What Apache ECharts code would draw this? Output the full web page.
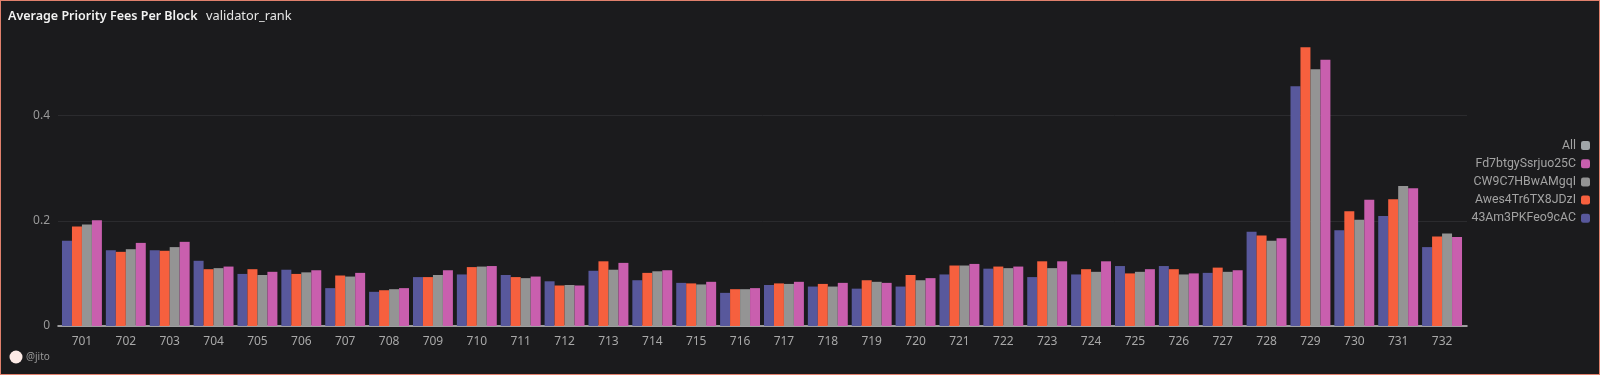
<!DOCTYPE html>
<html><head><meta charset="utf-8">
<style>html,body{margin:0;padding:0;background:#1b1b1d}
#c{width:1600px;height:375px;position:relative}
#f{position:absolute;left:0;top:0;width:1600px;height:375px;box-sizing:border-box;border:1px solid #e0806c;pointer-events:none}</style>
<script src="https://cdn.jsdelivr.net/npm/echarts@6/dist/echarts.min.js"></script>
</head><body><div id="c"></div><div id="f"></div>
<script>
const categories = Array.from({length:32},(_, i)=>String(701+i));
const blue = [.162,.144,.144,.124,.099,.107,.072,.065,.093,.098,.097,.085,.105,.087,.082,.063,.078,.075,.071,.075,.098,.109,.093,.098,.114,.114,.101,.179,.456,.182,.209,.150];
const orange = [.189,.141,.143,.108,.108,.099,.096,.068,.093,.112,.093,.077,.123,.101,.081,.070,.081,.080,.087,.097,.115,.113,.123,.108,.100,.108,.111,.172,.530,.218,.241,.170];
const gray = [.193,.146,.150,.110,.097,.102,.094,.070,.097,.113,.091,.078,.107,.104,.079,.070,.080,.075,.084,.087,.115,.110,.110,.103,.103,.098,.103,.162,.488,.202,.266,.176];
const pink = [.201,.158,.160,.113,.103,.106,.101,.072,.106,.114,.094,.077,.120,.106,.084,.072,.084,.082,.082,.091,.118,.113,.123,.123,.108,.100,.106,.167,.506,.240,.262,.169];
const names = ['43Am3PKFeo9cAC','Awes4Tr6TX8JDzI','CW9C7HBwAMgqI','Fd7btgySsrjuo25C','All'];
const colors = ['#58589c','#f6603e','#949494','#c95fae','#a0a5a8'];
const font = 'Noto Sans';
const mk = (i,d)=>({name:names[i],type:'bar',data:d,itemStyle:{color:colors[i]},barGap:0,barCategoryGap:'9%',emphasis:{disabled:true}});
const chart = echarts.init(document.getElementById('c'),null,{renderer:'canvas'});
chart.setOption({
  animation:false,
  backgroundColor:'#1b1b1d',
  title:[
    {text:'Average Priority Fees Per Block',left:8,top:10,padding:0,textStyle:{color:'#f2f2f2',fontSize:12.5,fontWeight:600,fontFamily:font}},
    {text:'validator_rank',left:206,top:10,padding:0,textStyle:{color:'#e6e6e6',fontSize:12.8,fontWeight:400,fontFamily:font}}
  ],
  grid:[{left:60,right:136,top:10.4,height:315.6},{left:58,right:133,top:10.4,height:315.6}],
  legend:{
    orient:'vertical',right:5,top:134.5,align:'right',icon:'roundRect',itemWidth:9,itemHeight:9,itemGap:6.2,
    data:['All',names[3],names[2],names[1],names[0]],
    selectedMode:false,
    textStyle:{color:'#a3a3a3',fontSize:12.3,fontFamily:'Roboto',width:106,overflow:'truncate',ellipsis:''}
  },
  xAxis:[{type:'category',data:categories,gridIndex:0,
    axisLine:{show:false},axisTick:{show:false},
    axisLabel:{color:'#a8a8a8',fontSize:12,fontFamily:font,margin:10,interval:0}},
    {type:'category',data:[''],gridIndex:1,axisLine:{lineStyle:{color:'#c8c8c8',width:1.5}},axisTick:{show:false},axisLabel:{show:false}}],
  yAxis:[{type:'value',gridIndex:0,min:0,max:0.6,interval:0.2,axisLabel:{show:false},axisLine:{show:false},axisTick:{show:false},splitLine:{show:false}},
    {type:'value',gridIndex:1,min:0,max:0.6,interval:0.2,
    axisLabel:{color:'#999',fontSize:12,fontFamily:font,margin:8,showMaxLabel:false,formatter:v=>v===0?'0':v.toFixed(1)},
    axisLine:{show:false},axisTick:{show:false},
    splitLine:{showMaxLine:false,lineStyle:{color:'#2b2b2e',width:1}}}],
  series:[mk(0,blue),mk(1,orange),mk(2,gray),mk(3,pink),
    {name:names[4],type:'line',data:[],itemStyle:{color:colors[4]},lineStyle:{color:colors[4]}}],
  graphic:[
    {type:'circle',shape:{cx:16,cy:357,r:6.5},style:{fill:'#fdeae6'}},
    {type:'text',x:26,y:352,style:{text:'@jito',fill:'#999',font:'10px "Noto Sans"'}}
  ]
});
</script></body></html>
